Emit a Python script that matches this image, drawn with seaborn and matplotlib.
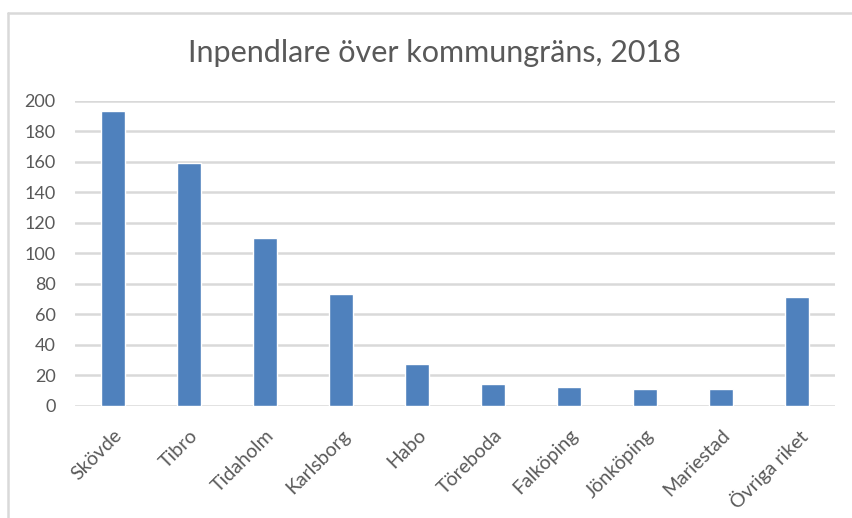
import matplotlib.pyplot as plt
from matplotlib.lines import Line2D
import pandas as pd
import seaborn as sns

kommuner = [
    "Skövde",
    "Tibro",
    "Tidaholm",
    "Karlsborg",
    "Habo",
    "Töreboda",
    "Falköping",
    "Jönköping",
    "Mariestad",
    "Övriga riket",
]
inpendlare = [193, 159, 110, 73, 27, 14, 12, 11, 11, 71]

sns.set_theme(style="white")
plt.rcParams["font.family"] = ["Lato", "DejaVu Sans"]

grey_text = "#595959"
grid_col = "#D9D9D9"

df = pd.DataFrame({"kommun": kommuner, "antal": inpendlare})

fig = plt.figure(figsize=(8.53, 5.18), dpi=100)
W, H = 853, 518
ax = fig.add_axes([75 / W, 1 - 405.7 / H, 760 / W, 305.2 / H])

sns.barplot(
    data=df,
    x="kommun",
    y="antal",
    color="#4F81BD",
    saturation=1,
    width=0.32,
    ax=ax,
    zorder=3,
)

ax.set_ylim(0, 200)
ax.set_xlim(-0.5, len(kommuner) - 0.5)
ax.set_yticks(range(0, 201, 20))
ax.yaxis.grid(True, color=grid_col, linewidth=1.8, zorder=0)
ax.set_axisbelow(True)
for s in ax.spines.values():
    s.set_visible(False)
ax.set_xlabel("")
ax.set_ylabel("")
ax.tick_params(axis="y", length=0, pad=14, labelsize=13, labelcolor=grey_text)
ax.tick_params(axis="x", length=0, pad=15, labelsize=14, labelcolor=grey_text)
plt.setp(ax.get_xticklabels(), rotation=45, ha="right", rotation_mode="anchor")

fig.text(434 / W, 1 - 62 / H, "Inpendlare över kommungräns, 2018",
         ha="center", va="baseline", fontsize=22, color=grey_text)

# chart frame (left and top edges visible)
fig.add_artist(Line2D([8 / W, 8 / W], [0, 1 - 13 / H], transform=fig.transFigure,
                      color=grid_col, linewidth=1.8))
fig.add_artist(Line2D([8 / W, 1], [1 - 13 / H, 1 - 13 / H], transform=fig.transFigure,
                      color=grid_col, linewidth=1.8))

fig.savefig("out.png", dpi=100)
